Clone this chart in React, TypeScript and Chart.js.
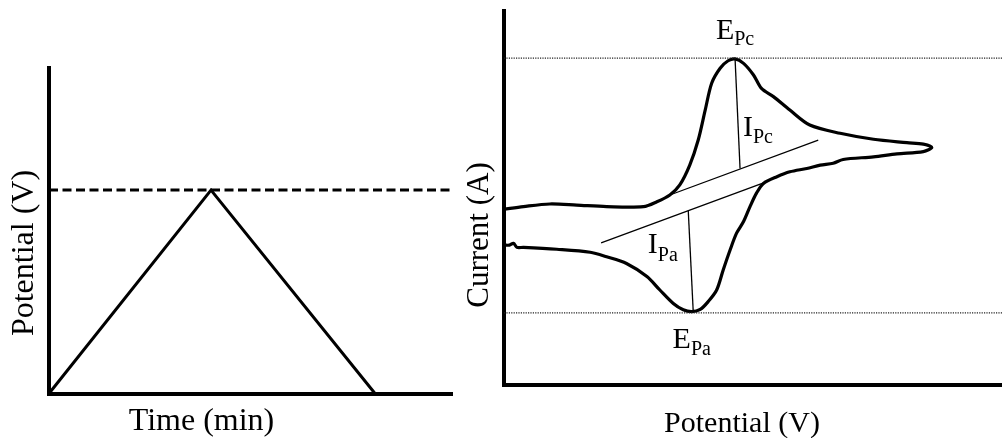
import React, { useEffect, useRef } from "react";
import { Chart, registerables } from "chart.js";

Chart.register(...registerables);

// ---------- Left panel: triangular potential waveform ----------
const waveTime = [0, 4.02, 8.09];
const wavePotential = [0, 1, 0];
const switchingPotential = 1;
const timeRange = [0, 10];
const potentialRange = [0, 1.6];

// ---------- Right panel: cyclic voltammogram ----------
const cvPotential = [
  0, 0.39, 0.92, 1.46, 2.06, 2.8, 3.07, 3.33, 3.53, 3.73, 3.9, 4.04, 4.17, 4.34, 4.5, 4.64,
  4.81, 5.01, 5.17, 5.41, 5.74, 6.14, 6.75, 7.42, 8.09, 8.42, 8.59,
  8.42, 7.89, 7.42, 6.81, 6.61, 6.35, 6.08, 5.74, 5.48, 5.21, 5.07, 4.94, 4.81, 4.67, 4.54,
  4.4, 4.27, 4.1, 3.94, 3.77, 3.6, 3.4, 3.13, 2.87, 2.46, 2.06, 1.73, 1.06, 0.39, 0.26, 0.19,
  0.11, 0,
];
const cvCurrent = [
  4.7, 4.77, 4.84, 4.81, 4.77, 4.77, 4.9, 5.08, 5.35, 5.88, 6.55, 7.35, 8.07, 8.47, 8.67, 8.72,
  8.6, 8.29, 7.93, 7.71, 7.35, 6.95, 6.73, 6.57, 6.48, 6.44, 6.35,
  6.24, 6.18, 6.1, 6.03, 5.93, 5.88, 5.79, 5.7, 5.57, 5.39, 5.13, 4.77, 4.37, 4.06, 3.61,
  3.07, 2.54, 2.23, 2.02, 1.96, 2.01, 2.18, 2.54, 2.9, 3.25, 3.43, 3.55, 3.63, 3.68, 3.68, 3.79,
  3.74, 3.74,
];
const cvPotentialRange = [0, 10];
const cvCurrentRange = [0, 10];

// peak levels (dotted guides)
const peakCathodicCurrent = 8.74;
const peakAnodicCurrent = 1.93;
const peakCathodicPotential = 4.64;
const peakAnodicPotential = 3.77;

// baselines (extrapolated background) and peak-current drops
const cathodicBaselineX = [3.33, 6.31];
const cathodicBaselineY = [5.08, 6.55];
const anodicBaselineX = [1.95, 5.28];
const anodicBaselineY = [3.8, 5.44];
const cathodicDropX = [4.64, 4.74];
const cathodicDropY = [8.72, 5.79];
const anodicDropX = [3.7, 3.8];
const anodicDropY = [4.66, 1.96];

// annotation anchors (data units)
const ipcLabelAt = [5.1, 6.66];
const ipaLabelAt = [3.19, 3.53];

const FONT = "'Liberation Serif', 'Times New Roman', serif";
const RIGHT_LEFT = 450;

const pts = (xs: number[], ys: number[]) => xs.map((x, i) => ({ x, y: ys[i] }));

function axisScale(range: number[]) {
  return {
    type: "linear" as const,
    min: range[0],
    max: range[1],
    display: true,
    grid: { display: false, drawTicks: false },
    ticks: { display: false },
    border: { display: true, width: 4, color: "#000" },
  };
}

function drawSub(
  ctx: CanvasRenderingContext2D,
  main: string,
  sub: string,
  cx: number,
  baseline: number,
  mainSize: number,
  subSize: number,
  drop: number
) {
  ctx.font = `${mainSize}px ${FONT}`;
  const w1 = ctx.measureText(main).width;
  ctx.font = `${subSize}px ${FONT}`;
  const w2 = ctx.measureText(sub).width;
  const x0 = cx - (w1 + w2) / 2;
  ctx.fillStyle = "#000";
  ctx.textAlign = "left";
  ctx.textBaseline = "alphabetic";
  ctx.font = `${mainSize}px ${FONT}`;
  ctx.fillText(main, x0, baseline);
  ctx.font = `${subSize}px ${FONT}`;
  ctx.fillText(sub, x0 + w1, baseline + drop);
}

function drawRotated(ctx: CanvasRenderingContext2D, text: string, x: number, cy: number, size: number) {
  ctx.save();
  ctx.translate(x, cy);
  ctx.rotate(-Math.PI / 2);
  ctx.font = `${size}px ${FONT}`;
  ctx.fillStyle = "#000";
  ctx.textAlign = "center";
  ctx.textBaseline = "alphabetic";
  ctx.fillText(text, 0, 0);
  ctx.restore();
}

export default function App() {
  const leftRef = useRef<HTMLCanvasElement>(null);
  const rightRef = useRef<HTMLCanvasElement>(null);

  useEffect(() => {
    const leftText = {
      id: "leftText",
      afterDraw(chart: any) {
        const ctx = chart.ctx as CanvasRenderingContext2D;
        ctx.save();
        ctx.font = `32px ${FONT}`;
        ctx.fillStyle = "#000";
        ctx.textAlign = "center";
        ctx.textBaseline = "alphabetic";
        ctx.fillText("Time (min)", 201.5, 430);
        drawRotated(ctx, "Potential (V)", 33, 253, 32);
        ctx.restore();
      },
    };

    const left = new Chart(leftRef.current!, {
      type: "line",
      data: {
        datasets: [
          {
            data: pts(timeRange, [switchingPotential, switchingPotential]),
            borderColor: "#000",
            borderWidth: 3,
            borderDash: [9, 4.5],
            pointRadius: 0,
            clip: false as any,
          },
          {
            data: pts(waveTime, wavePotential),
            borderColor: "#000",
            borderWidth: 3,
            pointRadius: 0,
            tension: 0,
            clip: false as any,
          },
        ],
      },
      options: {
        animation: false,
        responsive: false,
        layout: { padding: { left: 49, top: 68, right: 8, bottom: 44.5 } },
        plugins: { legend: { display: false }, tooltip: { enabled: false } },
        scales: { x: axisScale(timeRange), y: axisScale(potentialRange) },
      },
      plugins: [leftText],
    });

    const rightText = {
      id: "rightText",
      afterDraw(chart: any) {
        const ctx = chart.ctx as CanvasRenderingContext2D;
        const xs = chart.scales.x;
        const ys = chart.scales.y;
        ctx.save();
        ctx.font = `30px ${FONT}`;
        ctx.fillStyle = "#000";
        ctx.textAlign = "center";
        ctx.textBaseline = "alphabetic";
        ctx.fillText("Potential (V)", 742 - RIGHT_LEFT, 432);
        drawRotated(ctx, "Current (A)", 488 - RIGHT_LEFT, 235, 31);
        drawSub(ctx, "E", "Pc", xs.getPixelForValue(peakCathodicPotential), ys.getPixelForValue(peakCathodicCurrent) - 19, 30, 20, 6);
        drawSub(ctx, "E", "Pa", xs.getPixelForValue(peakAnodicPotential), ys.getPixelForValue(peakAnodicCurrent) + 35, 30, 20, 7);
        drawSub(ctx, "I", "Pc", xs.getPixelForValue(ipcLabelAt[0]), ys.getPixelForValue(ipcLabelAt[1]), 30, 20, 7);
        drawSub(ctx, "I", "Pa", xs.getPixelForValue(ipaLabelAt[0]), ys.getPixelForValue(ipaLabelAt[1]), 30, 20, 8);
        ctx.restore();
      },
    };

    const thin = (xs: number[], ys: number[]) => ({
      data: pts(xs, ys),
      borderColor: "#000",
      borderWidth: 1.3,
      pointRadius: 0,
      tension: 0,
      clip: false as any,
    });
    const dotted = (y: number) => ({
      data: pts(cvPotentialRange, [y, y]),
      borderColor: "#222",
      borderWidth: 1.2,
      borderDash: [1.2, 1.2],
      pointRadius: 0,
      clip: false as any,
    });

    const right = new Chart(rightRef.current!, {
      type: "line",
      data: {
        datasets: [
          dotted(peakCathodicCurrent),
          dotted(peakAnodicCurrent),
          thin(cathodicBaselineX, cathodicBaselineY),
          thin(anodicBaselineX, anodicBaselineY),
          thin(cathodicDropX, cathodicDropY),
          thin(anodicDropX, anodicDropY),
          {
            data: pts(cvPotential, cvCurrent),
            borderColor: "#000",
            borderWidth: 3.2,
            pointRadius: 0,
            tension: 0.3,
            borderJoinStyle: "round",
            borderCapStyle: "round",
            clip: false as any,
          },
        ],
      },
      options: {
        animation: false,
        responsive: false,
        layout: { padding: { left: 504 - RIGHT_LEFT, top: 11, right: 0, bottom: 53 } },
        plugins: { legend: { display: false }, tooltip: { enabled: false } },
        scales: { x: axisScale(cvPotentialRange), y: axisScale(cvCurrentRange) },
      },
      plugins: [rightText],
    });

    return () => {
      left.destroy();
      right.destroy();
    };
  }, []);

  return (
    <div style={{ position: "fixed", left: 0, top: 0, width: 1002, height: 438, background: "#fff" }}>
      <canvas ref={leftRef} width={460} height={438} style={{ position: "absolute", left: 0, top: 0 }} />
      <canvas
        ref={rightRef}
        width={1002 - RIGHT_LEFT}
        height={438}
        style={{ position: "absolute", left: RIGHT_LEFT, top: 0 }}
      />
    </div>
  );
}
